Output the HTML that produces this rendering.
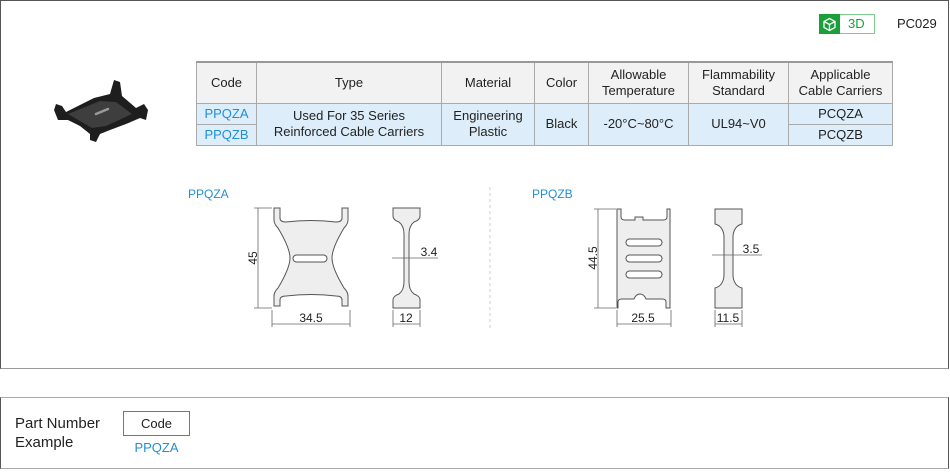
<!DOCTYPE html>
<html><head><meta charset="utf-8"><style>
*{margin:0;padding:0;box-sizing:border-box}
body{width:950px;height:476px;background:#fff;font-family:"Liberation Sans",sans-serif;color:#222;position:relative;overflow:hidden}
.box1{position:absolute;left:0;top:0;width:949px;height:369px;border:1px solid #555;border-bottom-color:#999}
.box2{position:absolute;left:0;top:397px;width:949px;height:72px;border:1px solid #aaa;border-left-color:#555;border-right-color:#555}
table{position:absolute;left:196px;top:61px;border-collapse:collapse;font-size:13px;text-align:center;border-top:2px solid #999}
td,th{border:1px solid #aaa;font-weight:normal;line-height:16px;padding:0}
th{background:#f2f2f2;height:41px}
td{background:#ddeefa;height:21px}
.blue{color:#1f8fd6}
</style></head><body>
<div class="box1"></div>
<div class="box2"></div>
<div style="position:absolute;left:819px;top:14px;width:56px;height:20px;border:1px solid #7ccf8a"></div>
<div style="position:absolute;left:819px;top:14px;width:21px;height:20px;background:#1aa03a"></div>
<svg style="position:absolute;left:822px;top:17px" width="15" height="15" viewBox="0 0 15 15"><path d="M7.5 1.5 L13 4.5 V10.5 L7.5 13.5 L2 10.5 V4.5 Z M2 4.5 L7.5 7.5 L13 4.5 M7.5 7.5 V13.5" fill="none" stroke="#fff" stroke-width="1.3"/></svg>
<div style="position:absolute;left:848px;top:16px;font-size:13px;color:#1aa03a">3D</div>
<div style="position:absolute;left:897px;top:16px;font-size:13px">PC029</div>
<svg style="position:absolute;left:50px;top:74px" width="100" height="70" viewBox="0 0 100 70">
<path d="M4 36 L6 30 L12 32 L16 38 L44 24 L60 20 L64 6 L70 8 L72 22 L86 34 L94 30 L98 36 L96 46 L90 44 L76 50 L60 56 L50 60 L46 68 L40 66 L40 60 L30 52 L18 46 L8 46 Z" fill="#1e1e1e"/>
<path d="M18 40 L50 27 L66 28 L82 40 L56 52 L42 54 Z" fill="#3e3e3e"/>
<path d="M46 40 L58 35" stroke="#999" stroke-width="2.5" stroke-linecap="round"/>
</svg>
<table>
<tr><th style="width:60px">Code</th><th style="width:185px">Type</th><th style="width:93px">Material</th><th style="width:54px">Color</th><th style="width:100px">Allowable<br>Temperature</th><th style="width:100px">Flammability<br>Standard</th><th style="width:104px">Applicable<br>Cable Carriers</th></tr>
<tr><td class="blue">PPQZA</td><td rowspan="2">Used For 35 Series<br>Reinforced Cable Carriers</td><td rowspan="2">Engineering<br>Plastic</td><td rowspan="2">Black</td><td rowspan="2">-20°C~80°C</td><td rowspan="2">UL94~V0</td><td>PCQZA</td></tr>
<tr><td class="blue">PPQZB</td><td>PCQZB</td></tr>
</table>
<svg style="position:absolute;left:0;top:0" width="950" height="476" font-family="Liberation Sans" font-size="12">
<text x="188" y="198" fill="#1f8fd6">PPQZA</text>
<text x="532" y="198" fill="#1f8fd6">PPQZB</text>
<line x1="490" y1="187" x2="490" y2="330" stroke="#ccc" stroke-dasharray="3,3"/>
<g stroke="#555" fill="#eee" stroke-width="1">
<path d="M274 208 h6 v10 q0 4 6 4 q25 -3 50 0 q6 0 6 -4 v-10 h6 v12 q0 4 -4 8 q-12 20 -12 30 q0 10 12 30 q4 4 4 8 v10 h-6 v-6 q0 -4 -6 -4 q-25 -3 -50 0 q-6 0 -6 4 v6 h-6 v-10 q0 -4 4 -8 q12 -20 12 -30 q0 -10 -12 -30 q-4 -4 -4 -8 z"/>
<rect x="293" y="255" width="34" height="7" rx="3.5" fill="#fff"/>
<path d="M393 208 h27 v8 q0 4 -6 6 q-5 4 -5 12 v48 q0 8 5 12 q6 2 6 6 v8 h-27 v-8 q0 -4 6 -6 q5 -4 5 -12 v-48 q0 -8 -5 -12 q-6 -2 -6 -6 z"/>
<path d="M617 209 h4 v8 q0 3 4 3 h10 v-3 h8 v3 h20 q4 0 4 -3 v-8 h3 v99 h-4 v-6 q0 -3 -4 -3 h-16 q-2 -5 -6 -5 q-4 0 -6 5 h-12 q-4 0 -4 3 v6 h-1 z"/>
<rect x="626" y="239" width="36" height="7" rx="3.5" fill="#fff"/>
<rect x="626" y="255" width="36" height="7" rx="3.5" fill="#fff"/>
<rect x="626" y="271" width="36" height="7" rx="3.5" fill="#fff"/>
<path d="M715 209 h27 v15 q-8 2 -9 12 v40 q1 10 9 12 v20 h-27 v-20 q8 -2 9 -12 v-40 q-1 -10 -9 -12 z"/>
</g>
<g stroke="#666" stroke-width="0.8" fill="none">
<line x1="258" y1="208" x2="258" y2="308"/><line x1="254" y1="208" x2="272" y2="208"/><line x1="254" y1="308" x2="272" y2="308"/>
<line x1="272" y1="310" x2="272" y2="327"/><line x1="350" y1="310" x2="350" y2="327"/><line x1="272" y1="324" x2="350" y2="324"/>
<line x1="392" y1="258" x2="438" y2="258"/>
<line x1="393" y1="310" x2="393" y2="327"/><line x1="420" y1="310" x2="420" y2="327"/><line x1="393" y1="324" x2="420" y2="324"/>
<line x1="598" y1="209" x2="598" y2="308"/><line x1="594" y1="209" x2="616" y2="209"/><line x1="594" y1="308" x2="616" y2="308"/>
<line x1="617" y1="310" x2="617" y2="327"/><line x1="671" y1="310" x2="671" y2="327"/><line x1="617" y1="324" x2="671" y2="324"/>
<line x1="712" y1="255" x2="762" y2="255"/>
<line x1="715" y1="310" x2="715" y2="327"/><line x1="742" y1="310" x2="742" y2="327"/><line x1="715" y1="324" x2="742" y2="324"/>
</g>
<g fill="#222" font-size="12">
<text transform="translate(257,258) rotate(-90)" text-anchor="middle">45</text>
<text x="311" y="322" text-anchor="middle">34.5</text>
<text x="429" y="256" text-anchor="middle">3.4</text>
<text x="406" y="322" text-anchor="middle">12</text>
<text transform="translate(597,258) rotate(-90)" text-anchor="middle">44.5</text>
<text x="643" y="322" text-anchor="middle">25.5</text>
<text x="751" y="253" text-anchor="middle">3.5</text>
<text x="728" y="322" text-anchor="middle">11.5</text>
</g>
</svg>
<div style="position:absolute;left:15px;top:414px;font-size:15px;line-height:19px">Part Number<br>Example</div>
<div style="position:absolute;left:123px;top:411px;width:67px;height:25px;border:1px solid #777;font-size:13px;text-align:center;line-height:23px">Code</div>
<div style="position:absolute;left:123px;top:440px;width:67px;font-size:13px;text-align:center;color:#1f8fd6">PPQZA</div>
</body></html>
